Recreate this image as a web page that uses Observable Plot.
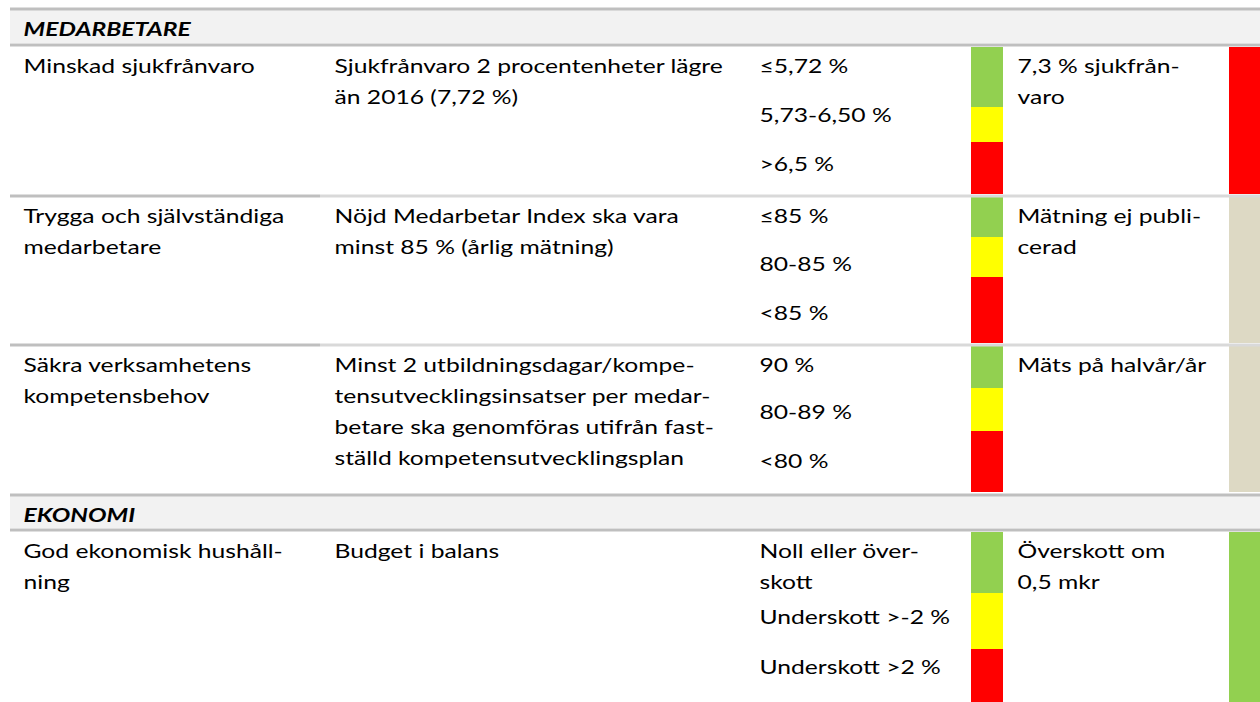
<!DOCTYPE html>
<html>
<head>
<meta charset="utf-8">
<script src="https://cdn.jsdelivr.net/npm/d3@7"></script>
<script src="https://cdn.jsdelivr.net/npm/@observablehq/plot@0.6"></script>
<style>
  html, body { margin: 0; padding: 0; background: #ffffff; overflow: hidden; }
  #chart svg { display: block; }
</style>
</head>
<body>
<div id="chart"></div>
<script>
// ---------------- DATA ----------------
const sections = ["MEDARBETARE", "EKONOMI"];
const rowSection = [0, 0, 0, 1];
const goals = [
  "Minskad sjukfrånvaro",
  "Trygga och självständiga\nmedarbetare",
  "Säkra verksamhetens\nkompetensbehov",
  "God ekonomisk hushåll-\nning"
];
const targets = [
  "Sjukfrånvaro 2 procentenheter lägre\nän 2016 (7,72 %)",
  "Nöjd Medarbetar Index ska vara\nminst 85 % (årlig mätning)",
  "Minst 2 utbildningsdagar/kompe-\ntensutvecklingsinsatser per medar-\nbetare ska genomföras utifrån fast-\nställd kompetensutvecklingsplan",
  "Budget i balans"
];
const levels = [
  ["≤5,72 %", "5,73-6,50 %", ">6,5 %"],
  ["≤85 %", "80-85 %", "<85 %"],
  ["90 %", "80-89 %", "<80 %"],
  ["Noll eller över-\nskott", "Underskott >-2 %", "Underskott >2 %"]
];
const levelNames = ["grön", "gul", "röd"];
const outcomes = [
  "7,3 % sjukfrån-\nvaro",
  "Mätning ej publi-\ncerad",
  "Mäts på halvår/år",
  "Överskott om\n0,5 mkr"
];
const outcomeStatus = ["röd", "ej mätt", "ej mätt", "grön"];
const statusColors = { "grön": "#92d050", "gul": "#ffff00", "röd": "#ff0000", "ej mätt": "#ddd9c4" };

// ---------------- LAYOUT (pixels) ----------------
const W = 1260, H = 702;
const fontFamily = "Lato, 'Open Sans', sans-serif";
const fs = 19.2, lineH = 31, stretchX = 1.285;
const tableLeft = 10, tableRight = W;
const firstColRight = 320;
const colTextX = [23, 334, 759, 1017];
const levelBarX = [971, 1003];
const outcomeBarX = [1229, 1260];
const sectionTop = [10, 496], sectionBottom = [43, 528];
const rowTop = [47, 197, 346, 532], rowBottom = [194, 343, 492, 702];
const segmentHeights = [[60, 35, 53], [40, 40, 66], [42, 43, 61], [61, 56, 53]];
const levelOffsets = [[0, 49, 98], [0, 48, 97], [0, 47, 96], [0, 66, 116]];
const baselinePad = 26, sectionBaselinePad = 25;
const lineColor = "#bfbfbf", sepColor = "#d9d9d9", bandColor = "#f2f2f2";

// ---------------- TABLES FOR MARKS ----------------
const bands = sections.map((s, i) => ({ x1: tableLeft, x2: tableRight, y1: sectionTop[i], y2: sectionBottom[i] }));

const segs = [];
levels.forEach((lv, r) => {
  let y = rowTop[r];
  lv.forEach((_, k) => {
    const h = segmentHeights[r][k];
    const y2 = k === lv.length - 1 ? rowBottom[r] : y + h;
    segs.push({ x1: levelBarX[0], x2: levelBarX[1], y1: y, y2, fill: statusColors[levelNames[k]] });
    y = y2;
  });
});
const outBars = outcomes.map((o, r) => ({ x1: outcomeBarX[0], x2: outcomeBarX[1], y1: rowTop[r], y2: rowBottom[r], fill: statusColors[outcomeStatus[r]] }));

const rules = [];
sections.forEach((s, i) => {
  rules.push({ y: sectionTop[i] - 1.5, x1: tableLeft, x2: tableRight, c: lineColor });
  rules.push({ y: sectionBottom[i] + 1.5, x1: tableLeft, x2: tableRight, c: lineColor });
});
for (let r = 0; r < goals.length - 1; r++) {
  if (rowSection[r] === rowSection[r + 1]) {
    const y = rowBottom[r] + 1.5;
    rules.push({ y, x1: tableLeft, x2: firstColRight, c: lineColor });
    rules.push({ y, x1: firstColRight, x2: tableRight, c: sepColor });
  }
}

// Plot's lineAnchor "top" puts the first baseline 0.71 line-heights below y
const bodyTop = (baseline) => baseline - 0.71 * lineH;
const headTop = (baseline) => baseline - 0.71 * fs;
const texts = [];
const heads = sections.map((s, i) => ({ x: tableLeft + 13, y: headTop(sectionTop[i] + sectionBaselinePad), text: s }));
goals.forEach((g, r) => {
  const b = rowTop[r] + baselinePad;
  texts.push({ x: colTextX[0], y: bodyTop(b), text: g });
  texts.push({ x: colTextX[1], y: bodyTop(b), text: targets[r] });
  levels[r].forEach((l, k) => texts.push({ x: colTextX[2], y: bodyTop(b + levelOffsets[r][k]), text: l }));
  texts.push({ x: colTextX[3], y: bodyTop(b), text: outcomes[r] });
});

// ---------------- PLOT ----------------
const chart = Plot.plot({
  width: W,
  height: H,
  margin: 0,
  x: { type: "linear", domain: [0, W], range: [0, W], axis: null },
  y: { type: "linear", domain: [0, H], range: [0, H], axis: null },
  style: { background: "#ffffff", fontFamily },
  marks: [
    Plot.rect(bands, { x1: "x1", x2: "x2", y1: "y1", y2: "y2", fill: bandColor }),
    Plot.rect(segs, { x1: "x1", x2: "x2", y1: "y1", y2: "y2", fill: "fill" }),
    Plot.rect(outBars, { x1: "x1", x2: "x2", y1: "y1", y2: "y2", fill: "fill" }),
    Plot.ruleY(rules, { y: "y", x1: "x1", x2: "x2", stroke: "c", strokeWidth: 3 }),
    Plot.text(texts, {
      x: "x", y: "y", text: "text", textAnchor: "start", lineAnchor: "top",
      lineHeight: lineH / fs, fontSize: fs, fill: "#000000", fontFamily
    }),
    Plot.text(heads, {
      x: "x", y: "y", text: "text", textAnchor: "start", lineAnchor: "top",
      fontSize: fs, fontWeight: "bold", fontStyle: "italic", fill: "#000000", fontFamily
    })
  ]
});
// the reference text is horizontally wide: stretch each label from its anchor
chart.querySelectorAll("text").forEach(t => {
  const tr = t.getAttribute("transform") || "";
  t.setAttribute("transform", `${tr} scale(${stretchX},1)`);
});
document.getElementById("chart").appendChild(chart);
</script>
</body>
</html>
